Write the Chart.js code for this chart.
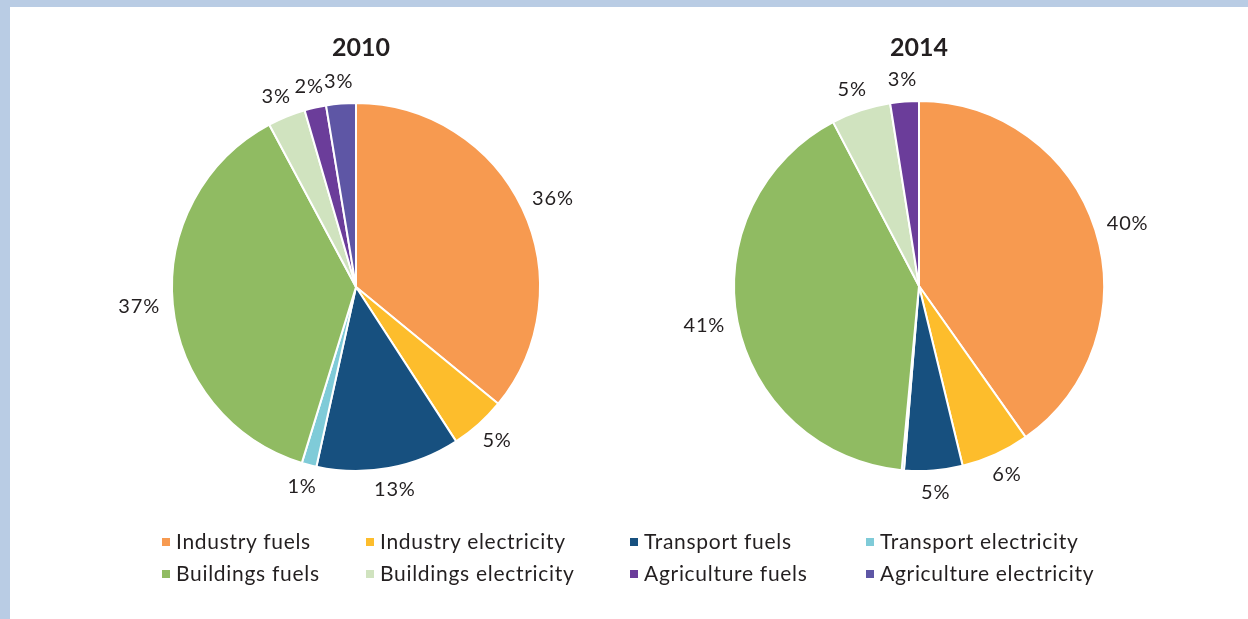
<!DOCTYPE html>
<html>
<head>
<meta charset="utf-8">
<script src="https://cdn.jsdelivr.net/npm/chart.js@4.4.0/dist/chart.umd.min.js"></script>
<style>
  html, body { margin: 0; padding: 0; background: #fff; }
  body { width: 1248px; height: 619px; position: relative; overflow: hidden; font-family: Lato, sans-serif; color: #231f20; }
  .band-top { position: absolute; left: 0; top: 0; width: 1248px; height: 7px; background: #b9cce4; }
  .band-left { position: absolute; left: 0; top: 0; width: 10px; height: 619px; background: #b9cce4; }
  .pie { position: absolute; width: 560px; height: 520px; }
  #legend { position: absolute; left: 162px; top: 524px; display: grid; grid-template-columns: 204px 264px 236px 240px; grid-auto-rows: 32px; font-size: 21px; letter-spacing: 0.7px; }
  #legend .item { display: flex; align-items: center; white-space: nowrap; }
  #legend .box { width: 8px; height: 8px; margin-right: 6px; margin-top: 3px; flex: none; }
</style>
</head>
<body>
<div class="band-top"></div>
<div class="band-left"></div>
<div class="pie" style="left:76px; top:27px;"><canvas id="pie2010"></canvas></div>
<div class="pie" style="left:639px; top:26px;"><canvas id="pie2014"></canvas></div>
<div id="legend"></div>
<script>
// categories and shares (% of total)
const categories = ['Industry fuels', 'Industry electricity', 'Transport fuels', 'Transport electricity',
                    'Buildings fuels', 'Buildings electricity', 'Agriculture fuels', 'Agriculture electricity'];
const colors = ['#f79a50', '#fdbd2c', '#17507f', '#7fcbd8', '#90bb62', '#d0e3bf', '#6b3d9a', '#5e56a5'];

const share2010 = [35.9, 4.9, 12.6, 1.3, 37.4, 3.3, 1.9, 2.6];
const share2014 = [40.3, 6.0, 5.1, 0.2, 40.9, 5.2, 2.5, 0];

// printed labels (null = no label)
const pct2010 = [36, 5, 13, 1, 37, 3, 2, 3];
const pct2014 = [40, 6, 5, null, 41, 5, 3, null];

const sliceLabels = {
    id: 'sliceLabels',
    afterDatasetsDraw(chart, args, opts) {
        const ctx = chart.ctx;
        const arcs = chart.getDatasetMeta(0).data;
        ctx.save();
        ctx.fillStyle = '#231f20';
        ctx.font = '20px Lato, sans-serif';
        ctx.letterSpacing = '0.8px';
        ctx.textAlign = 'center';
        ctx.textBaseline = 'middle';
        arcs.forEach((arc, i) => {
            const txt = opts.labels[i];
            if (txt === null || txt === undefined) return;
            const p = arc.getProps(['x', 'y', 'startAngle', 'endAngle', 'outerRadius'], true);
            const a = (p.startAngle + p.endAngle) / 2;
            const s = txt + '%';
            const w = ctx.measureText(s).width;
            const r = p.outerRadius + 13;
            const x = p.x + Math.cos(a) * r + Math.cos(a) * w / 2;
            const y = p.y + Math.sin(a) * r + Math.sin(a) * 9;
            ctx.fillText(s, x, y);
        });
        // year title
        ctx.letterSpacing = '0px';
        ctx.font = 'bold 25px Lato, sans-serif';
        ctx.fillText(opts.title, chart.width / 2 + opts.titleDx, opts.titleY);
        ctx.restore();
    }
};

function makePie(id, values, pcts, title, pad, titleY, titleDx) {
    return new Chart(document.getElementById(id), {
        type: 'pie',
        data: {
            labels: categories,
            datasets: [{
                data: values,
                backgroundColor: colors,
                borderColor: '#ffffff',
                borderWidth: 2
            }]
        },
        options: {
            responsive: true,
            maintainAspectRatio: false,
            animation: false,
            layout: { padding: { top: pad, bottom: pad } },
            plugins: {
                legend: { display: false },
                tooltip: { enabled: false },
                sliceLabels: { labels: pcts, title: title, titleY: titleY, titleDx: titleDx }
            }
        },
        plugins: [sliceLabels]
    });
}

makePie('pie2010', share2010, pct2010, '2010', 75, 21, 5);
makePie('pie2014', share2014, pct2014, '2014', 74, 22, 0);

// legend, same order as the slices
const legend = document.getElementById('legend');
categories.forEach((name, i) => {
    const el = document.createElement('div');
    el.className = 'item';
    el.innerHTML = `<span class="box" style="background:${colors[i]}"></span><span>${name}</span>`;
    legend.appendChild(el);
});
</script>
</body>
</html>
